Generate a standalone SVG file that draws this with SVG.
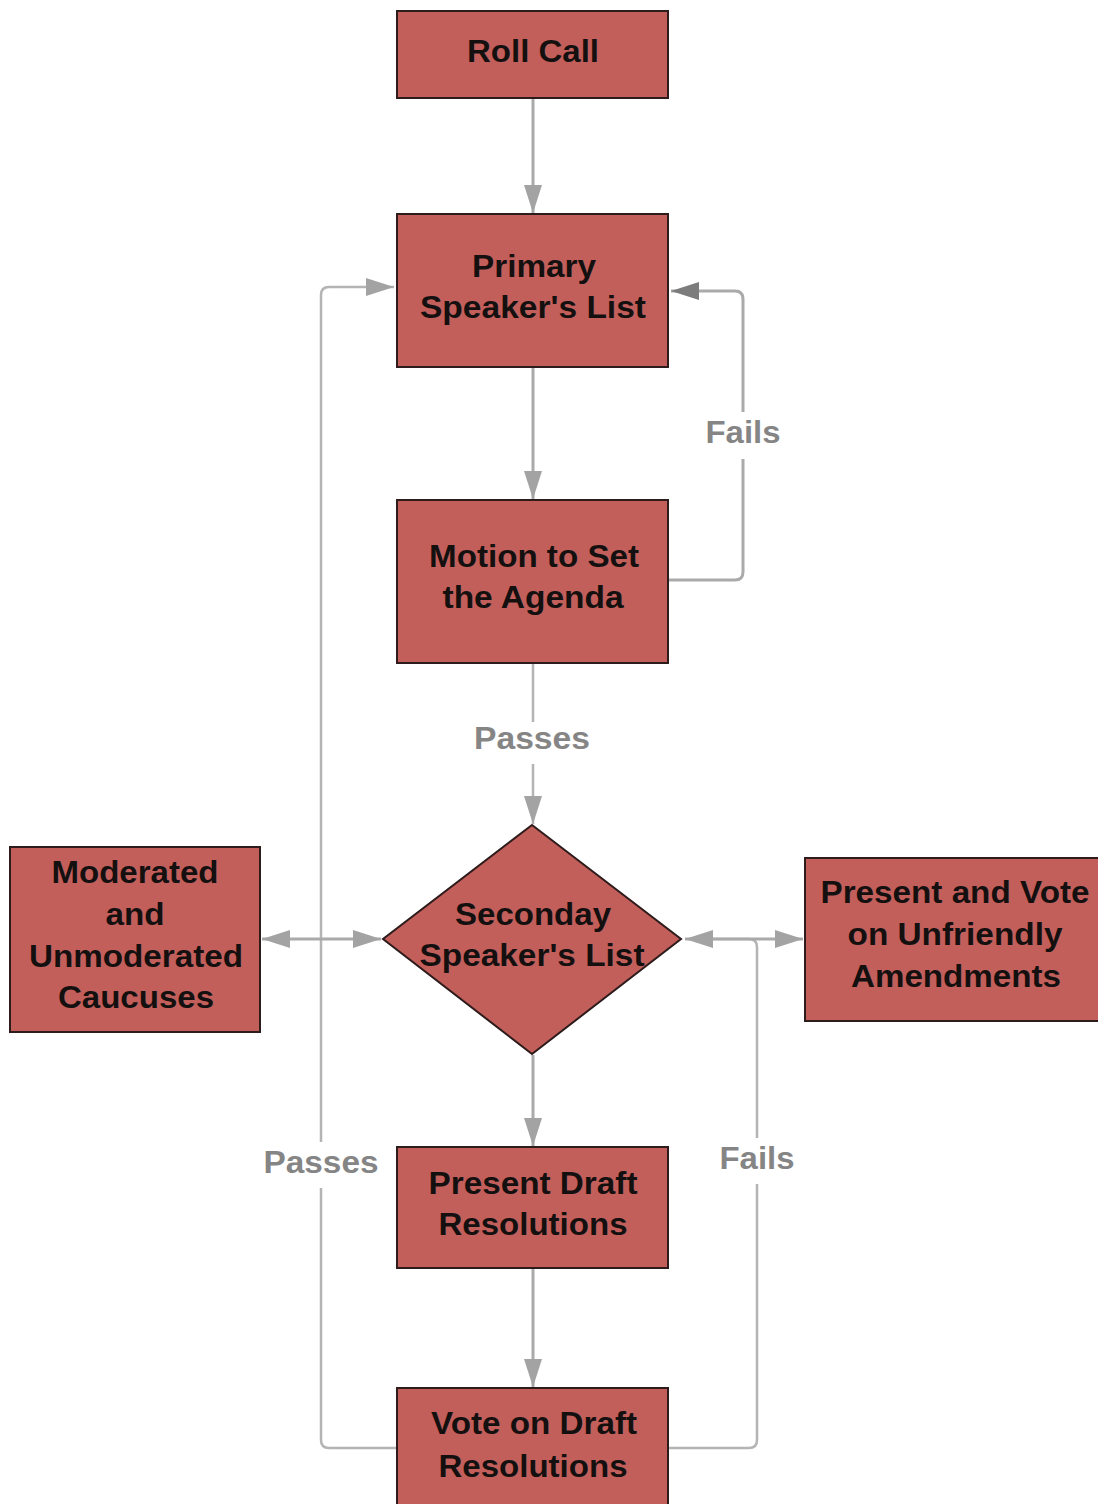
<svg xmlns="http://www.w3.org/2000/svg" width="1098" height="1504" viewBox="0 0 1098 1504">
<style>
.node{fill:#c35f5b;stroke:#2e1b1b;stroke-width:2}
.t{font-family:"Liberation Sans",Arial,sans-serif;font-weight:bold;font-size:31px;fill:#141010;text-anchor:middle}
.lbl{font-family:"Liberation Sans",Arial,sans-serif;font-weight:bold;font-size:31px;fill:#858585;text-anchor:middle}
.c{fill:none;stroke:#aaaaaa;stroke-width:3}
.cl{fill:none;stroke:#b4b4b4;stroke-width:2.5}
</style>
<defs>
<marker id="a" markerUnits="userSpaceOnUse" markerWidth="30" markerHeight="20" viewBox="0 0 30 20" refX="28" refY="10" orient="auto-start-reverse">
<path d="M0,1 L28,10 L0,19 Z" fill="#a3a3a3"/>
</marker>
<marker id="ad" markerUnits="userSpaceOnUse" markerWidth="30" markerHeight="20" viewBox="0 0 30 20" refX="28" refY="10" orient="auto">
<path d="M0,1 L28,10 L0,19 Z" fill="#7c7c7c"/>
</marker>
</defs>
<rect width="1098" height="1504" fill="#ffffff"/>
<g id="connectors">
<line class="c" x1="533" y1="98" x2="533" y2="213" marker-end="url(#a)"/>
<line class="c" x1="533" y1="368" x2="533" y2="499" marker-end="url(#a)"/>
<path class="cl" d="M533,663 V722 M533,764 V824" marker-end="url(#a)"/>
<line class="c" x1="533" y1="1055" x2="533" y2="1146" marker-end="url(#a)"/>
<line class="c" x1="533" y1="1268" x2="533" y2="1387" marker-end="url(#a)"/>
<path class="c" d="M668,580 H735 Q743,580 743,572 V459 M743,412 V299 Q743,291 735,291 H671" marker-end="url(#ad)"/>
<path class="cl" d="M397,1448 H329 Q321,1448 321,1440 V1188 M321,1142 V295 Q321,287 329,287 H394" marker-end="url(#a)"/>
<path class="cl" d="M668,1448 H749 Q757,1448 757,1440 V1184 M757,1138 V947 Q757,939 749,939 H712"/>
<line class="c" x1="262" y1="939" x2="381" y2="939" marker-start="url(#a)" marker-end="url(#a)"/>
<line class="c" x1="685" y1="939" x2="803" y2="939" marker-start="url(#a)" marker-end="url(#a)"/>
<text class="lbl" x="532" y="749" textLength="116" lengthAdjust="spacingAndGlyphs">Passes</text>
<text class="lbl" x="743" y="443" textLength="75" lengthAdjust="spacingAndGlyphs">Fails</text>
<text class="lbl" x="321" y="1173" textLength="115" lengthAdjust="spacingAndGlyphs">Passes</text>
<text class="lbl" x="757" y="1169" textLength="75" lengthAdjust="spacingAndGlyphs">Fails</text>
</g>
<g id="roll-call">
<rect class="node" x="397" y="11" width="271" height="87"/>
<text class="t" x="533" y="62" textLength="132" lengthAdjust="spacingAndGlyphs">Roll Call</text>
</g>
<g id="primary-speakers-list">
<rect class="node" x="397" y="214" width="271" height="153"/>
<text class="t" x="534" y="277" textLength="124" lengthAdjust="spacingAndGlyphs">Primary</text>
<text class="t" x="533" y="318" textLength="226" lengthAdjust="spacingAndGlyphs">Speaker's List</text>
</g>
<g id="motion-agenda">
<rect class="node" x="397" y="500" width="271" height="163"/>
<text class="t" x="534" y="567" textLength="210" lengthAdjust="spacingAndGlyphs">Motion to Set</text>
<text class="t" x="533" y="608" textLength="181" lengthAdjust="spacingAndGlyphs">the Agenda</text>
</g>
<g id="secondary-speakers-list">
<polygon class="node" points="532,825 681,939 532,1054 383,939"/>
<text class="t" x="533" y="925" textLength="156" lengthAdjust="spacingAndGlyphs">Seconday</text>
<text class="t" x="532" y="966" textLength="225" lengthAdjust="spacingAndGlyphs">Speaker's List</text>
</g>
<g id="caucuses">
<rect class="node" x="10" y="847" width="250" height="185"/>
<text class="t" x="135" y="883" textLength="167" lengthAdjust="spacingAndGlyphs">Moderated</text>
<text class="t" x="135" y="925" textLength="59" lengthAdjust="spacingAndGlyphs">and</text>
<text class="t" x="136" y="967" textLength="214" lengthAdjust="spacingAndGlyphs">Unmoderated</text>
<text class="t" x="136" y="1008" textLength="156" lengthAdjust="spacingAndGlyphs">Caucuses</text>
</g>
<g id="unfriendly-amendments">
<rect class="node" x="805" y="858" width="300" height="163"/>
<text class="t" x="955" y="903" textLength="269" lengthAdjust="spacingAndGlyphs">Present and Vote</text>
<text class="t" x="955" y="945" textLength="215" lengthAdjust="spacingAndGlyphs">on Unfriendly</text>
<text class="t" x="956" y="987" textLength="210" lengthAdjust="spacingAndGlyphs">Amendments</text>
</g>
<g id="present-draft">
<rect class="node" x="397" y="1147" width="271" height="121"/>
<text class="t" x="533" y="1194" textLength="209" lengthAdjust="spacingAndGlyphs">Present Draft</text>
<text class="t" x="533" y="1235" textLength="189" lengthAdjust="spacingAndGlyphs">Resolutions</text>
</g>
<g id="vote-draft">
<rect class="node" x="397" y="1388" width="271" height="130"/>
<text class="t" x="534" y="1434" textLength="206" lengthAdjust="spacingAndGlyphs">Vote on Draft</text>
<text class="t" x="533" y="1477" textLength="189" lengthAdjust="spacingAndGlyphs">Resolutions</text>
</g>
</svg>
